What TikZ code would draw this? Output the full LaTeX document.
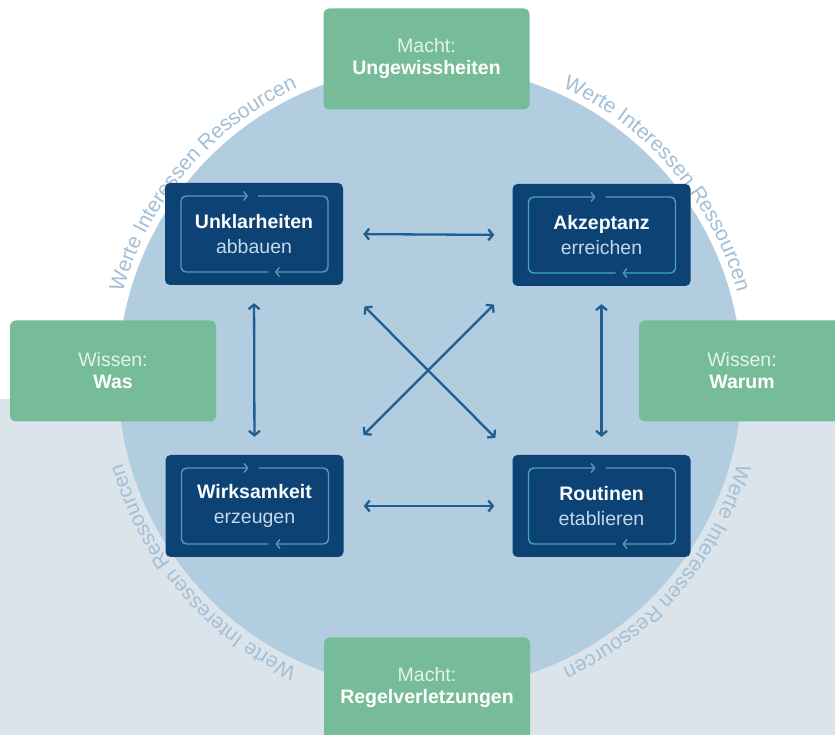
\documentclass[tikz,border=0pt]{standalone}
\usepackage{fontspec}
\setmainfont{Liberation Sans}
\usetikzlibrary{arrows.meta,decorations.text}
\definecolor{hnavy}{HTML}{0D4275}
\definecolor{hteal}{HTML}{4AA3B4}
\definecolor{hgreen}{HTML}{76BC98}
\definecolor{hdisc}{HTML}{B2CCE0}
\definecolor{hband}{HTML}{DCE4EB}
\definecolor{harrow}{HTML}{1F5E8E}
\definecolor{hring}{HTML}{A3BFD6}
\definecolor{hsoft}{HTML}{C3D9EC}
\definecolor{hmint}{HTML}{E4F3EA}
\newcommand\ringfont{\fontsize{21}{24}\selectfont}

\begin{document}
\begin{tikzpicture}[x=1pt, y=1pt,
  task/.style={fill=hnavy, rounded corners=5pt, minimum width=178pt, minimum height=102pt, inner sep=0pt,
    align=center, text=white!93!hsoft, font=\fontsize{19.5}{25}\selectfont},
  lens/.style={fill=hgreen, rounded corners=6pt, minimum width=206pt, minimum height=101pt, inner sep=0pt,
    align=center, text=white, font=\fontsize{19.5}{22}\selectfont},
  link/.style={draw=harrow, line width=2.3pt, {Straight Barb[length=4.5pt,width=11pt]}-{Straight Barb[length=4.5pt,width=11pt]}},
  loopframe/.pic={
    \draw[hteal, line width=1.4pt, rounded corners=5pt, -{Straight Barb[length=3.5pt,width=9pt]}]
      (4,38) -- (74,38) -- (74,-38) -- (21,-38);
    \draw[hteal, line width=1.4pt, rounded corners=5pt, -{Straight Barb[length=3.5pt,width=9pt]}]
      (14,-38) -- (-73,-38) -- (-73,38) -- (-6,38);
  },
]
\useasboundingbox (0,0) rectangle (835,735);
\fill[white] (0,0) rectangle (835,735);
\fill[hband] (0,0) rectangle (835,336);

% disc and the ring text
\coordinate (c) at (430,357);
\fill[hdisc] (c) circle[radius=312];
\foreach \a in {139.5,40.5,-40.5,-139.5}
  \path[decorate, decoration={text along path, text align=center, text color=hring,
      text={|\ringfont|Werte Interessen Ressourcen}}]
    ([shift={({\a+40}:319)}]c) arc[start angle={\a+40}, end angle={\a-40}, radius=319];

% outer boxes
\node[lens] (mu) at (426.5,676) {{\color{hmint}Macht:}\\\textbf{Ungewissheiten}};
\node[lens] (ww) at (113,364) {{\color{hmint}Wissen:}\\\textbf{Was}};
\node[lens] (wr) at (742,364) {{\color{hmint}Wissen:}\\\textbf{Warum}};
\node[lens] (mr) at (427,47) {{\color{hmint}Macht:}\\\textbf{Regelverletzungen}};

% inner boxes
\node[task] (ul) at (254,501) {\textbf{Unklarheiten}\\{\color{hsoft}abbauen}};
\node[task] (ur) at (601.5,500) {\textbf{Akzeptanz}\\{\color{hsoft}erreichen}};
\node[task] (ll) at (254.5,229) {\textbf{Wirksamkeit}\\{\color{hsoft}erzeugen}};
\node[task] (lr) at (601.5,229) {\textbf{Routinen}\\{\color{hsoft}etablieren}};
\foreach \b in {ul,ur,ll,lr}
  \pic at (\b.center) {loopframe};

\draw[link, shorten <=20pt, shorten >=18pt] (ul.east) -- (ur.west);
\draw[link, shorten <=20pt, shorten >=18pt] (ll.east) -- (lr.west);
\draw[link, shorten <=18pt, shorten >=18pt] (ul.south) -- (ll.north);
\draw[link, shorten <=18pt, shorten >=18pt] (ur.south) -- (lr.north);
\draw[link, shorten <=30pt, shorten >=24pt] (ul.south east) -- (lr.north west);
\draw[link, shorten <=26pt, shorten >=28pt] (ur.south west) -- (ll.north east);
\end{tikzpicture}
\end{document}
